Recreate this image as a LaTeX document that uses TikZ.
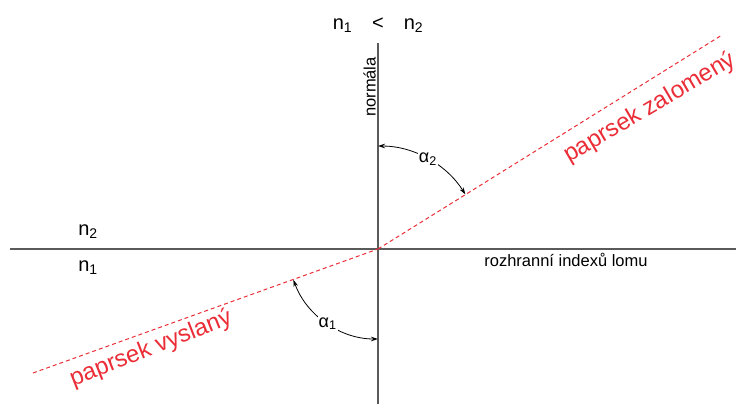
\documentclass[tikz,border=0pt]{standalone}
\usepackage{fontspec}
\setmainfont{Liberation Sans}
\usepackage{xcolor}
\usetikzlibrary{arrows.meta,positioning,calc}

\definecolor{axisgray}{RGB}{90,90,90}
\definecolor{rayred}{RGB}{235,45,55}

\begin{document}
\begin{tikzpicture}[
    x=1pt, y=1pt,
    interface/.style={draw=axisgray, line width=1.5pt},
    ray/.style={draw=rayred, line width=1pt, dash pattern=on 4pt off 3pt},
    raytext/.style={text=rayred, font=\fontsize{24}{26}\selectfont, inner sep=0pt},
    idxtext/.style={font=\fontsize{20}{22}\selectfont, inner sep=1pt},
    smalltext/.style={font=\fontsize{16.5}{18}\selectfont, inner sep=2pt},
    angarrow/.style={draw=black, line width=0.8pt,
      {Stealth[length=7pt,width=4.5pt]}-{Stealth[length=7pt,width=4.5pt]}},
    anglabel/.style={fill=white, inner sep=1pt, font=\fontsize{18}{20}\selectfont}
  ]
    \useasboundingbox (-378,-155) rectangle (358,249);
    % interface and normal
    \coordinate (O) at (0,0);
    \coordinate (left) at (-368,0);
    \coordinate (right) at (358,0);
    \coordinate (top) at (0,206);
    \coordinate (bottom) at (0,-155);
    \draw[interface] (left) -- (right);
    \draw[interface] (bottom) -- (top);
    % rays
    \coordinate (src) at (-345,-124);
    \coordinate (dst) at (344,214);
    \draw[ray] (src) -- (O);
    \draw[ray] (O) -- (dst);
    % angles
    \draw[angarrow] ($(O)+(90:103)$) arc[start angle=90, end angle=32, radius=103];
    \node[anglabel] (a2) at ($(O)+(61:103)$) {α\textsubscript{2}};
    \draw[angarrow] ($(O)+(200:90)$) arc[start angle=200, end angle=270, radius=90];
    \node[anglabel] (a1) at ($(O)+(236:90)$) {α\textsubscript{1}};
    % labels
    \node[idxtext] (title) at (0,224) {n\textsubscript{1}\quad<\quad n\textsubscript{2}};
    \node[idxtext] (n2) at (-290,17) {n\textsubscript{2}};
    \node[idxtext] (n1) at (-290,-19) {n\textsubscript{1}};
    \node[smalltext, rotate=90, anchor=south] (normal) at (0,162) {normála};
    \node[smalltext] (iface) at (188,-11) {rozhranní indexů lomu};
    \node[raytext, rotate=21.5] (inc) at (-227,-100) {paprsek vyslaný};
    \node[raytext, rotate=30.5] (refr) at (272,141) {paprsek zalomený};
\end{tikzpicture}
\end{document}
